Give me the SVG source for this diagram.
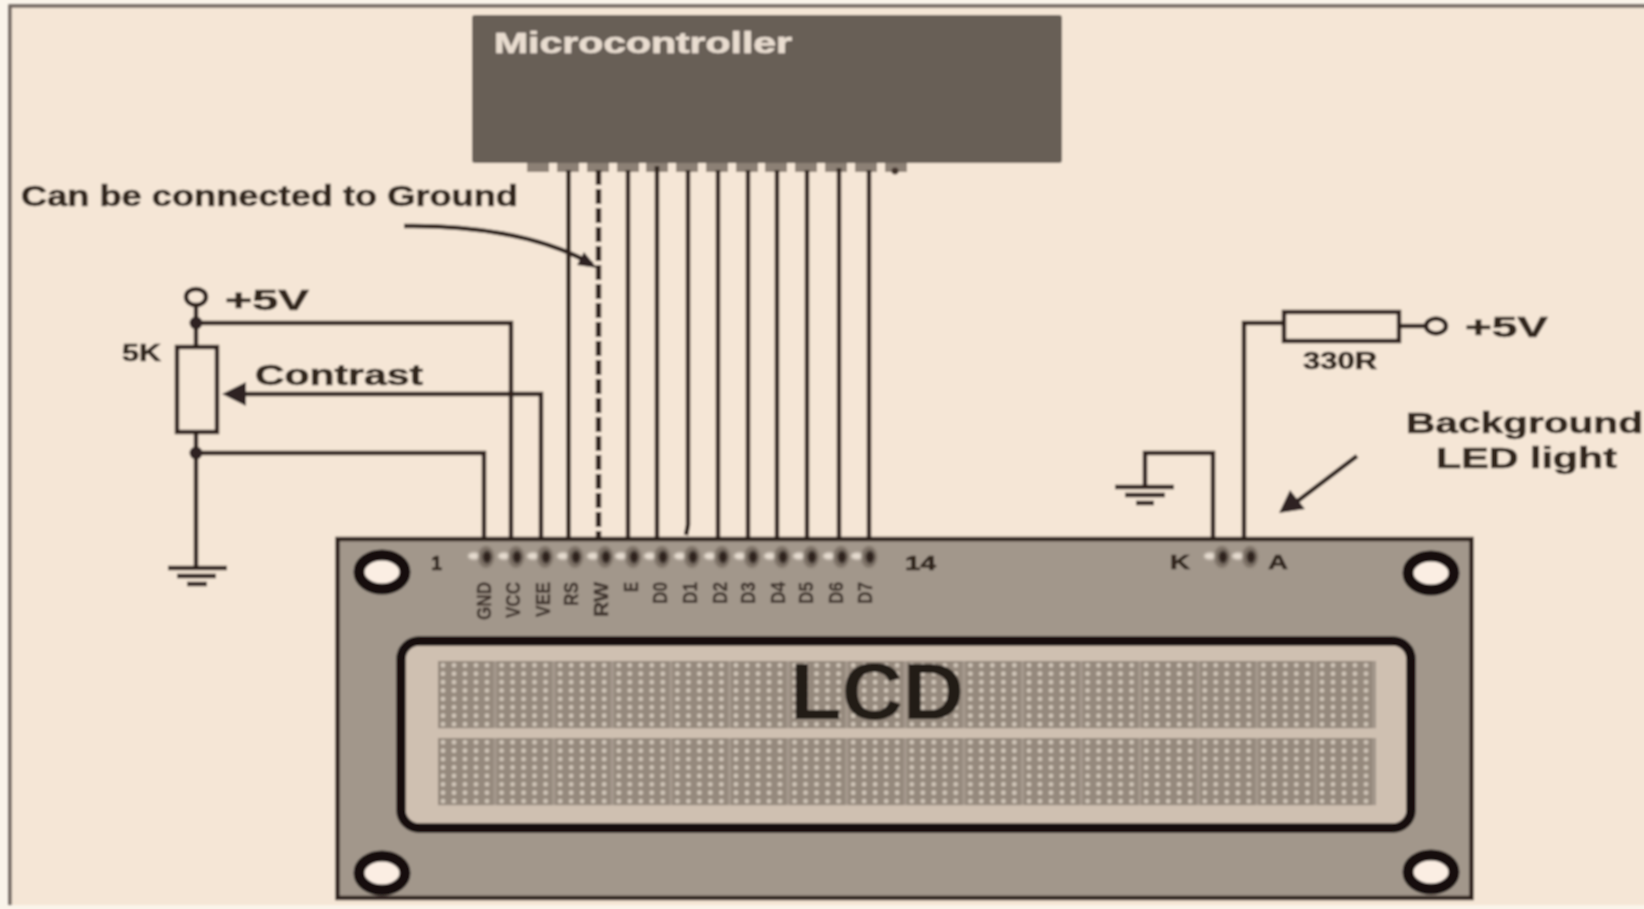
<svg xmlns="http://www.w3.org/2000/svg" width="1644" height="909" viewBox="0 0 1644 909">
<style>
.w{fill:none;stroke:#2e211b;stroke-width:4.5}
.b{stroke:#2e211b;stroke-width:4.5;fill:#f5e6d6}
.t{font-family:"Liberation Sans",Arial,sans-serif;font-weight:700;fill:#31261f;stroke:#31261f;stroke-width:.6}
.pl{font-family:"Liberation Sans",Arial,sans-serif;font-weight:700;fill:#40352e;stroke:#40352e;stroke-width:.4;font-size:21px}
.hole{fill:#fbeee3;stroke:#140c0a;stroke-width:11}
</style>
<defs>
<filter id="soft" x="-2%" y="-2%" width="104%" height="104%"><feGaussianBlur stdDeviation="0.8"/></filter>
<filter id="spot" x="-50%" y="-50%" width="200%" height="200%"><feGaussianBlur stdDeviation="1.3"/></filter>
<pattern id="dots" width="58.6" height="8.4" patternUnits="userSpaceOnUse" x="438" y="661">
<rect width="58.6" height="8.4" fill="#a69a8e"/><rect width="55.6" height="8.4" fill="#95897d"/>
<g fill="#cfc4b7"><circle cx="5" cy="4.2" r="2.4"/><circle cx="16" cy="4.2" r="2.4"/><circle cx="27" cy="4.2" r="2.4"/><circle cx="38" cy="4.2" r="2.4"/><circle cx="49" cy="4.2" r="2.4"/></g>
</pattern>
<pattern id="dots2" width="58.6" height="8.4" patternUnits="userSpaceOnUse" x="438" y="738">
<rect width="58.6" height="8.4" fill="#a69a8e"/><rect width="55.6" height="8.4" fill="#95897d"/>
<g fill="#cfc4b7"><circle cx="5" cy="4.2" r="2.4"/><circle cx="16" cy="4.2" r="2.4"/><circle cx="27" cy="4.2" r="2.4"/><circle cx="38" cy="4.2" r="2.4"/><circle cx="49" cy="4.2" r="2.4"/></g>
</pattern>
<g id="pin"><ellipse cx="-11" cy="-1" rx="6" ry="3.500" fill="#e6dcd0"/><ellipse cx="1" cy="0" rx="8" ry="11" fill="#7d7166"/><ellipse cx="2" cy="0" rx="4.500" ry="6.500" fill="#2e231d"/></g>
</defs>
<rect width="1644" height="909" fill="#faf4ea"/>
<g filter="url(#soft)">
<rect id="frame" x="10" y="6" width="1660" height="899" fill="#f5e6d6"/>
<path d="M10 905V6H1660" fill="none" stroke="#6f6660" stroke-width="3.500"/>
<g id="microcontroller">
<g fill="#8c8075"><rect x="527" y="160" width="22" height="12"/><rect x="557" y="160" width="22" height="12"/><rect x="587" y="160" width="22" height="12"/><rect x="617" y="160" width="22" height="12"/><rect x="646" y="160" width="22" height="12"/><rect x="676" y="160" width="22" height="12"/><rect x="706" y="160" width="22" height="12"/><rect x="736" y="160" width="22" height="12"/><rect x="765" y="160" width="22" height="12"/><rect x="795" y="160" width="22" height="12"/><rect x="825" y="160" width="22" height="12"/><rect x="855" y="160" width="22" height="12"/><rect x="885" y="160" width="22" height="12"/></g>
<rect x="472" y="15" width="590" height="148" rx="3" fill="#685e57"/>
<circle cx="895" cy="171" r="3.500" fill="#3f312a"/>
<text class="t" x="494" y="53" font-size="29" textLength="298" lengthAdjust="spacingAndGlyphs" style="fill:#e9ddd0;stroke:#e9ddd0">Microcontroller</text>
</g>
<g id="lcd">
<rect x="337.500" y="539" width="1134" height="359" fill="#a2978b" stroke="#2e211b" stroke-width="4.500"/>
<ellipse class="hole" cx="382" cy="572" rx="23" ry="17"/>
<ellipse class="hole" cx="1431" cy="573" rx="23" ry="17"/>
<ellipse class="hole" cx="382" cy="873" rx="23" ry="17"/>
<ellipse class="hole" cx="1431" cy="872" rx="23" ry="17"/>
<rect x="401" y="641" width="1010" height="187" rx="18" fill="#cfc0b1" stroke="#140c0a" stroke-width="9.500"/>
<rect x="438" y="661" width="938" height="67.200" fill="url(#dots)"/>
<rect x="438" y="738" width="938" height="67.200" fill="url(#dots2)"/>
<text x="790" y="719" font-size="80" textLength="174" lengthAdjust="spacingAndGlyphs" style="font-family:'Liberation Sans',sans-serif;font-weight:700;fill:#241a17">LCD</text>
<text class="t" x="431" y="570" font-size="20">1</text>
<text class="t" x="905" y="570" font-size="21" textLength="31" lengthAdjust="spacingAndGlyphs">14</text>
<text class="t" x="1170" y="569" font-size="21" textLength="20" lengthAdjust="spacingAndGlyphs">K</text>
<text class="t" x="1268" y="569" font-size="21" textLength="20" lengthAdjust="spacingAndGlyphs">A</text>
</g>
<g id="lcd-pins" filter="url(#spot)">
<use href="#pin" x="485" y="557"/><use href="#pin" x="515" y="557"/><use href="#pin" x="544" y="557"/><use href="#pin" x="574" y="557"/><use href="#pin" x="604" y="557"/><use href="#pin" x="632" y="557"/><use href="#pin" x="661" y="557"/><use href="#pin" x="691" y="557"/><use href="#pin" x="721" y="557"/><use href="#pin" x="751" y="557"/><use href="#pin" x="781" y="557"/><use href="#pin" x="810" y="557"/><use href="#pin" x="840" y="557"/><use href="#pin" x="868" y="557"/><use href="#pin" x="1221" y="557"/><use href="#pin" x="1249" y="557"/>
</g>
<g id="pin-labels">
<text class="pl" transform="translate(491 620) rotate(-90)" textLength="38" lengthAdjust="spacingAndGlyphs">GND</text>
<text class="pl" transform="translate(520 618) rotate(-90)" textLength="36" lengthAdjust="spacingAndGlyphs">VCC</text>
<text class="pl" transform="translate(550 617) rotate(-90)" textLength="35" lengthAdjust="spacingAndGlyphs">VEE</text>
<text class="pl" transform="translate(578 606) rotate(-90)" textLength="24" lengthAdjust="spacingAndGlyphs">RS</text>
<text class="pl" transform="translate(608 617) rotate(-90)" textLength="35" lengthAdjust="spacingAndGlyphs">RW</text>
<text class="pl" transform="translate(638 592) rotate(-90)" textLength="10" lengthAdjust="spacingAndGlyphs">E</text>
<text class="pl" transform="translate(667 604) rotate(-90)" textLength="22" lengthAdjust="spacingAndGlyphs">D0</text>
<text class="pl" transform="translate(697 604) rotate(-90)" textLength="22" lengthAdjust="spacingAndGlyphs">D1</text>
<text class="pl" transform="translate(727 604) rotate(-90)" textLength="22" lengthAdjust="spacingAndGlyphs">D2</text>
<text class="pl" transform="translate(755 604) rotate(-90)" textLength="22" lengthAdjust="spacingAndGlyphs">D3</text>
<text class="pl" transform="translate(785 604) rotate(-90)" textLength="22" lengthAdjust="spacingAndGlyphs">D4</text>
<text class="pl" transform="translate(813 604) rotate(-90)" textLength="22" lengthAdjust="spacingAndGlyphs">D5</text>
<text class="pl" transform="translate(843 604) rotate(-90)" textLength="22" lengthAdjust="spacingAndGlyphs">D6</text>
<text class="pl" transform="translate(872 604) rotate(-90)" textLength="22" lengthAdjust="spacingAndGlyphs">D7</text>
</g>
<g id="connectors">
<path class="w" d="M568.500 170V539M628 170V539M657 166V539M688 170V525L686 535M718 170V539M748 170V539M777 170V539M807 170V539M839 168V539M869 170V539"/>
<path class="w" d="M598.500 170V539" stroke-dasharray="15 4" style="stroke-width:5.500"/>
<path class="w" d="M484 539V453H196M511 539V323H196M541 539V394H240"/>
<path class="w" d="M196 306V347M196 432V568"/>
<path class="w" d="M168 568H227M177 576H216M187 584H207"/>
<path class="w" d="M1213 539V453H1145V487M1115 487H1174M1125 495H1165M1136 503H1154"/>
<path class="w" d="M1244 539V323H1284M1399 326H1425"/>
<path class="w" d="M404 226C470 225 540 235 592 264"/>
<path d="M597 268L577 265L584 252z" fill="#2f2420"/>
<path class="w" d="M1357 456L1295 503"/>
<path d="M1279 513L1290 490L1305 509z" fill="#2f2420"/>
<path d="M222 394L246 382V406z" fill="#2f2420"/>
<circle cx="196" cy="323" r="6.500" fill="#2f2420"/><circle cx="196" cy="453" r="6.500" fill="#2f2420"/>
</g>
<g id="pot"><rect class="b" x="177" y="347" width="40" height="85"/>
<ellipse class="b" cx="196" cy="297" rx="10" ry="8"/>
<text class="t" x="225" y="310" font-size="30" textLength="84" lengthAdjust="spacingAndGlyphs">+5V</text>
<text class="t" x="122" y="361" font-size="24" textLength="39" lengthAdjust="spacingAndGlyphs">5K</text>
<text class="t" x="255" y="385" font-size="30" textLength="168" lengthAdjust="spacingAndGlyphs">Contrast</text></g>
<g id="led-resistor"><rect class="b" x="1284" y="312" width="115" height="29"/>
<ellipse class="b" cx="1436" cy="326" rx="10" ry="7.500"/>
<text class="t" x="1465" y="337" font-size="30" textLength="83" lengthAdjust="spacingAndGlyphs">+5V</text>
<text class="t" x="1303" y="369" font-size="23" textLength="74" lengthAdjust="spacingAndGlyphs">330R</text></g>
<g id="notes">
<text class="t" x="21" y="206" font-size="29" textLength="497" lengthAdjust="spacingAndGlyphs">Can be connected to Ground</text>
<text class="t" x="1406" y="433" font-size="30" textLength="237" lengthAdjust="spacingAndGlyphs">Background</text>
<text class="t" x="1436" y="468" font-size="30" textLength="181" lengthAdjust="spacingAndGlyphs">LED light</text>
</g>
</g>
</svg>
